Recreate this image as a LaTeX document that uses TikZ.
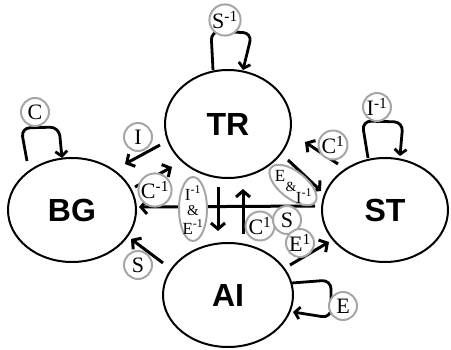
\documentclass[tikz,border=0pt]{standalone}
\usepackage{fontspec}
\setmainfont{Liberation Serif}
\newfontfamily\statefont{Liberation Sans}
\usetikzlibrary{shapes.geometric,arrows.meta}
\tikzset{
  state/.style={draw, ellipse, line width=2pt, fill=white, inner sep=0pt,
    font=\statefont\bfseries\fontsize{32}{32}\selectfont},
  op/.style={draw=gray!70, circle, line width=2pt, fill=white, inner sep=0pt,
    minimum size=28pt, font=\fontsize{22}{22}\selectfont},
  opell/.style={draw=gray!70, ellipse, line width=2pt, fill=white, inner sep=0pt},
  optext/.style={inner sep=0pt, font=\fontsize{17}{17}\selectfont},
  tr/.style={line width=3pt, -{Straight Barb[length=6pt,width=14pt]}},
  loopline/.style={line width=2.8pt, rounded corners=9pt, -{Straight Barb[length=5pt,width=12pt]}}
}
\newcommand{\inv}[1]{#1\textsuperscript{-1}}
\newcommand{\one}[1]{#1\textsuperscript{1}}
\begin{document}
\begin{tikzpicture}[x=1pt,y=-1pt]
\useasboundingbox (0,0) rectangle (451,350);

% states
\node[state, minimum width=126pt, minimum height=108pt] (TR) at (228,124) {TR};
\node[state, minimum width=128pt, minimum height=104pt] (BG) at (72,210) {BG};
\node[state, minimum width=126pt, minimum height=104pt] (ST) at (385,210) {ST};
\node[state, minimum width=130pt, minimum height=104pt] (AI) at (228,295) {AI};

% endpoints of the transitions
\coordinate (i1) at (160,145);   \coordinate (i2) at (125,164);
\coordinate (c1) at (135,187);   \coordinate (c2) at (172,167);
\coordinate (h1) at (315,206);   \coordinate (h2) at (139,207);
\coordinate (d1) at (218,187);   \coordinate (d2) at (218,231);
\coordinate (u1) at (243,234);   \coordinate (u2) at (243,189);
\coordinate (a1) at (290,265);   \coordinate (a2) at (329,242);
\coordinate (t1) at (288,160);   \coordinate (t2) at (321,191);
\coordinate (s1) at (338,164);   \coordinate (s2) at (305,142);
\coordinate (b1) at (163,263);   \coordinate (b2) at (131,239);

% transitions
\draw[tr] (i1) -- (i2);
\draw[tr] (c1) -- (c2);
\draw[tr] (h1) -- (h2);
\draw[tr] (d1) -- (d2);
\draw[tr] (u1) -- (u2);
\draw[tr] (a1) -- (a2);
\draw[tr] (t1) -- (t2);
\draw[tr] (s1) -- (s2);
\draw[tr] (b1) -- (b2);

% self loops
\draw[loopline] (213,70) -- (211,31) -- (252,33) -- (243,70);
\draw[loopline] (27,161) -- (21,128) -- (59,127) -- (62,158);
\draw[loopline] (368,158) -- (362,121) -- (403,122) -- (400,156);
\draw[loopline] (292,283) -- (331,280) -- (331,318) -- (293,312);

% operation labels
\node[op] (lS1) at (225,20) {\inv{S}};
\node[op] (lC)  at (35,112) {C};
\node[op] (lI1) at (377,107) {\inv{I}};
\node[op] (lE)  at (343,306) {E};
\node[op] (lI)  at (138,137) {I};
\node[op] (lCa) at (155,190) {\inv{C}};
\node[op] (lCb) at (333,145) {\one{C}};
\node[op] (lCc) at (260,226) {\one{C}};
\node[op] (lS)  at (287,220) {S};
\node[op] (lE1) at (300,243) {\one{E}};
\node[op] (lSb) at (138,265) {S};

% combined labels
\node[opell, minimum width=28pt, minimum height=64pt] (ieell) at (193,209) {};
\node[optext] (ie1) at (193,193) {\inv{I}};
\node[optext, font=\fontsize{15}{15}\selectfont] (ie2) at (193,211) {\&};
\node[optext] (ie3) at (193,227) {\inv{E}};

\node[opell, rotate=-38, minimum width=56pt, minimum height=27pt] (eiell) at (293,185) {};
\node[optext] (ei1) at (280,176) {E};
\node[optext, font=\fontsize{14}{14}\selectfont] (ei2) at (291,187) {\&};
\node[optext] (ei3) at (304,196) {\inv{I}};
\end{tikzpicture}
\end{document}
